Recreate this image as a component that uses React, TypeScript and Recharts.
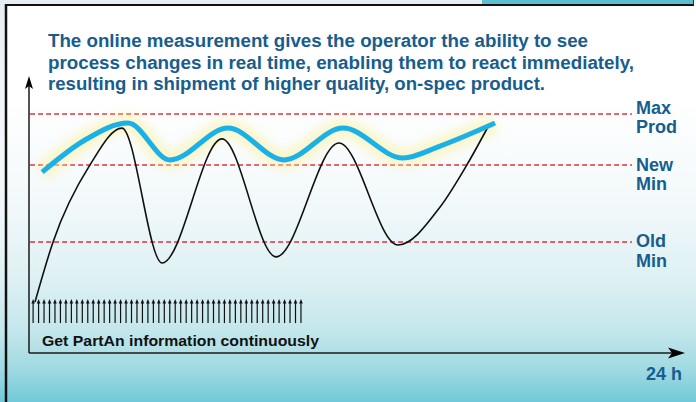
import React from "react";
import {
  ComposedChart,
  Line,
  Scatter,
  XAxis,
  YAxis,
  ReferenceLine,
  ReferenceDot,
} from "recharts";

// time in hours (0..24), value in % of the chart height
const improvedProcess = [
  { h: 0.48, v: 65.3 },
  { h: 2.05, v: 76.9 },
  { h: 3.62, v: 83.0 },
  { h: 5.16, v: 69.7 },
  { h: 7.28, v: 81.2 },
  { h: 9.33, v: 69.7 },
  { h: 11.49, v: 81.2 },
  { h: 13.68, v: 70.4 },
  { h: 15.04, v: 74.7 },
  { h: 17.05, v: 83.0 },
];

const oldProcess = [
  { h: 0.22, v: 18.4 },
  { h: 0.88, v: 40.1 },
  { h: 2.23, v: 67.9 },
  { h: 3.4, v: 81.2 },
  { h: 4.87, v: 32.5 },
  { h: 7.06, v: 77.3 },
  { h: 9.04, v: 34.7 },
  { h: 11.34, v: 75.8 },
  { h: 13.5, v: 39.0 },
  { h: 15.04, v: 52.7 },
  { h: 16.02, v: 67.9 },
  { h: 16.79, v: 81.6 },
];

const limitNames = [
  ["Max", "Prod"],
  ["New", "Min"],
  ["Old", "Min"],
];
const limitValues = [86.3, 67.9, 40.1];
const limitEnd = 22.06;

// one PartAn reading every 12 minutes
const sampleTimes = [
  0.15, 0.35, 0.55, 0.75, 0.95, 1.15, 1.35, 1.55, 1.75, 1.95,
  2.15, 2.35, 2.55, 2.75, 2.95, 3.15, 3.35, 3.55, 3.75, 3.95,
  4.15, 4.35, 4.55, 4.75, 4.95, 5.15, 5.35, 5.55, 5.75, 5.95,
  6.15, 6.35, 6.55, 6.75, 6.95, 7.15, 7.35, 7.55, 7.75, 7.95,
  8.15, 8.35, 8.55, 8.75, 8.95, 9.15, 9.35, 9.55, 9.75, 9.95,
];
const sampleLevel = 10.8;

const titleLines = [
  "The online measurement gives the operator the ability to see",
  "process changes in real time, enabling them to react immediately,",
  "resulting in shipment of higher quality, on-spec product.",
];

const BLUE_TEXT = "#175d8d";
const FONT = "'Liberation Sans', Arial, Helvetica, sans-serif";

const samples = sampleTimes.map((h) => ({ h, v: sampleLevel }));

function SampleArrow(props: any) {
  const { cx, cy } = props;
  if (cx == null || cy == null) return null;
  const top = cy - 24;
  return (
    <g>
      <line x1={cx} y1={cy} x2={cx} y2={top + 3} stroke="#111" strokeWidth={1.2} />
      <path d={`M${cx - 1.8},${top + 4.5} L${cx},${top} L${cx + 1.8},${top + 4.5} Z`} fill="#111" />
    </g>
  );
}

function RightArrow(props: any) {
  const { cx, cy } = props;
  return <path d={`M${cx - 17},${cy - 5.5} L${cx},${cy} L${cx - 17},${cy + 5.5} L${cx - 13},${cy} Z`} fill="#000" />;
}

function UpArrow(props: any) {
  const { cx, cy } = props;
  return <path d={`M${cx - 4},${cy + 13} L${cx},${cy} L${cx + 4},${cy + 13} L${cx},${cy + 10} Z`} fill="#000" />;
}

const labelOffsets = [
  [0, 19],
  [6, 25],
  [5, 25],
];

function limitLabel(index: number) {
  return (props: any) => {
    const vb = props.viewBox || {};
    const x = (vb.x ?? 0) + (vb.width ?? 0) + 4;
    const y = vb.y ?? 0;
    const [a, b] = labelOffsets[index];
    return (
      <text fill={BLUE_TEXT} fontFamily={FONT} fontWeight="bold" fontSize={18}>
        <tspan x={x} y={y + a}>{limitNames[index][0]}</tspan>
        <tspan x={x} y={y + b}>{limitNames[index][1]}</tspan>
      </text>
    );
  };
}

export default function App() {
  return (
    <div
      style={{
        position: "absolute",
        left: 0,
        top: 0,
        width: 696,
        height: 402,
        overflow: "hidden",
        background:
          "linear-gradient(to bottom, #ffffff 0px, #ffffff 95px, #f3f9fb 200px, #dff1f4 275px, #c4e7ec 330px, #9fd9e1 370px, #6fcad8 402px)",
      }}
    >
      <ComposedChart
        width={696}
        height={402}
        margin={{ top: 76, right: 11, bottom: 49, left: 29 }}
        style={{ position: "absolute", left: 0, top: 0 }}
      >
        <defs>
          <filter id="glow" x="-20%" y="-80%" width="140%" height="260%">
            <feGaussianBlur stdDeviation="5" />
          </filter>
        </defs>
        <XAxis type="number" dataKey="h" domain={[0, 24]} hide />
        <YAxis type="number" dataKey="v" domain={[0, 100]} hide />

        {limitValues.map((v, i) => (
          <ReferenceLine
            key={i}
            segment={[
              { x: 0.04, y: v },
              { x: limitEnd, y: v },
            ]}
            stroke="#e0323c"
            strokeWidth={1.5}
            strokeDasharray="5 3"
            label={limitLabel(i)}
          />
        ))}

        <ReferenceLine
          segment={[
            { x: 0, y: 0 },
            { x: 23.6, y: 0 },
          ]}
          stroke="#1a1a1a"
          strokeWidth={1.5}
        />
        <ReferenceLine
          segment={[
            { x: 0, y: 0 },
            { x: 0, y: 97 },
          ]}
          stroke="#1a1a1a"
          strokeWidth={1.5}
        />
        <ReferenceDot x={24} y={0} ifOverflow="visible" shape={RightArrow} />
        <ReferenceDot x={0} y={100} ifOverflow="visible" shape={UpArrow} />

        <Line
          data={improvedProcess}
          dataKey="v"
          type="monotone"
          stroke="#fbf09a"
          strokeWidth={18}
          strokeOpacity={0.55}
          filter="url(#glow)"
          dot={false}
          activeDot={false}
          isAnimationActive={false}
        />
        <Line
          data={oldProcess}
          dataKey="v"
          type="monotone"
          stroke="#111"
          strokeWidth={1.6}
          dot={false}
          activeDot={false}
          isAnimationActive={false}
        />
        <Line
          data={improvedProcess}
          dataKey="v"
          type="monotone"
          stroke="#1ab1e8"
          strokeWidth={5}
          strokeLinecap="butt"
          dot={false}
          activeDot={false}
          isAnimationActive={false}
        />
        <Scatter data={samples} dataKey="v" shape={SampleArrow} isAnimationActive={false} />
      </ComposedChart>

      <svg
        width={696}
        height={402}
        style={{ position: "absolute", left: 0, top: 0, pointerEvents: "none" }}
      >
        <defs>
          <linearGradient id="edge" x1="0" y1="0" x2="0" y2="1">
            <stop offset="0" stopColor="#e6eef5" />
            <stop offset="0.6" stopColor="#e6eef5" stopOpacity="0" />
          </linearGradient>
        </defs>
        <rect x={0} y={0} width={482} height={4} fill="#e6eef5" />
        <rect x={0} y={0} width={5} height={402} fill="url(#edge)" />
        <rect x={482} y={0} width={212} height={4} fill="#5bbfcf" />
        <line x1={5} y1={5} x2={694} y2={5} stroke="#111" strokeWidth={2} />
        <line x1={693.5} y1={0} x2={693.5} y2={5} stroke="#333" strokeWidth={1} />
        <line x1={6} y1={4} x2={6} y2={402} stroke="#111" strokeWidth={2.5} />

        {titleLines.map((t, i) => (
          <text
            key={i}
            x={48}
            y={47 + i * 21.5}
            fill={BLUE_TEXT}
            fontFamily={FONT}
            fontWeight="bold"
            fontSize={17.5}
            textLength={[540, 586, 497][i]}
            lengthAdjust="spacingAndGlyphs"
          >
            {t}
          </text>
        ))}
        <text
          x={42}
          y={346}
          fill="#111"
          fontFamily={FONT}
          fontWeight="bold"
          fontSize={15}
          textLength={277}
          lengthAdjust="spacingAndGlyphs"
        >
          Get PartAn information continuously
        </text>
        <text
          x={646}
          y={380}
          fill={BLUE_TEXT}
          fontFamily={FONT}
          fontWeight="bold"
          fontSize={17.5}
          textLength={36}
          lengthAdjust="spacingAndGlyphs"
        >
          24 h
        </text>
      </svg>
    </div>
  );
}
